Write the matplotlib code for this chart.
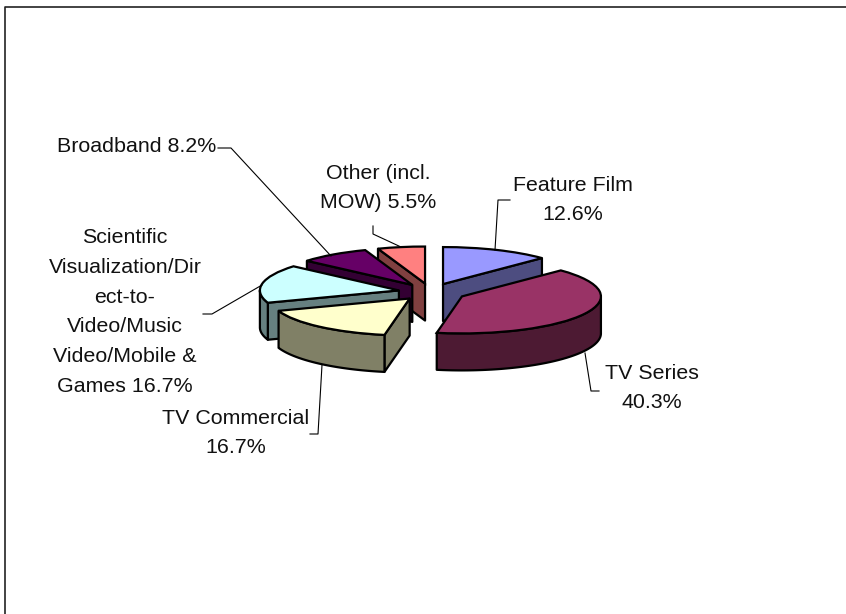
import numpy as np
import matplotlib
matplotlib.use("Agg")
import matplotlib.pyplot as plt
from matplotlib.patches import Polygon

plt.rcParams['font.family'] = ['Liberation Sans', 'DejaVu Sans']

labels = ["Feature Film\n12.6%", "TV Series\n40.3%", "TV Commercial\n16.7%",
          "Scientific\nVisualization/Dir\nect-to-\nVideo/Music\nVideo/Mobile &\nGames 16.7%",
          "Broadband 8.2%", "Other (incl.\nMOW) 5.5%"]
values = [12.6, 40.3, 16.7, 16.7, 8.2, 5.5]
explode = [0.232, 0.255, 0.232, 0.232, 0.232, 0.232]
top_colors = ["#9999FF", "#993366", "#FFFFCC", "#CCFFFF", "#660066", "#FF8080"]
side_colors = ["#4D4D80", "#4D1A33", "#808066", "#668080", "#330033", "#804040"]
# drawing order, back to front
draw_order = [5, 0, 4, 3, 2, 1]
# label centres and leader lines, in reference pixels
label_pos = [(573, 200), (652, 388), (236, 433), (125, 312), (137, 147), (378, 188)]
leaders = [[(510, 200), (498, 200), (495, 250)],
           [(585, 353), (591, 391), (599, 391)],
           [(322, 365), (318, 434), (310, 434)],
           [(262, 285), (212, 314), (203, 314)],
           [(218, 148), (231, 148), (331, 256)],
           [(373, 226), (373, 234), (401, 247)]]

W, H = 846, 614
CX, CY, RX, RY = 430.6, 292.0, 139.0, 37.0
DEPTH = 1.0
LW = 1.6

fig = plt.figure(figsize=(W / 100, H / 100), dpi=100, facecolor="white")
ax = fig.add_axes([0, 0, 1, 1])
wedges, _ = ax.pie(values, colors=top_colors, startangle=90, counterclock=False,
                   explode=explode, normalize=True,
                   wedgeprops=dict(edgecolor="black", linewidth=LW))
ax.set_aspect("auto")
ax.set_xlim(-CX / RX, (W - CX) / RX)
ax.set_ylim((CY - H) / RY, CY / RY)
ax.axis("off")


def px(p):
    return ((p[0] - CX) / RX, (CY - p[1]) / RY)


total = sum(values)
edges = np.concatenate([[0], np.cumsum(values)]) / total * 2 * np.pi
for rank, i in enumerate(draw_order):
    z = 2 + rank * 2
    a1, a2 = edges[i], edges[i + 1]
    mid = (a1 + a2) / 2
    ox, oy = explode[i] * np.sin(mid), explode[i] * np.cos(mid)
    faces = []
    for a, show in ((a1, np.sin(a1) < 0), (a2, np.sin(a2) > 0)):
        if show:
            rx, ry = ox + np.sin(a), oy + np.cos(a)
            faces.append([(ox, oy), (rx, ry), (rx, ry - DEPTH), (ox, oy - DEPTH)])
    lo, hi = max(a1, np.pi / 2), min(a2, 3 * np.pi / 2)
    if hi > lo:
        t = np.linspace(lo, hi, 80)
        xs, ys = ox + np.sin(t), oy + np.cos(t)
        faces.append(list(zip(xs, ys)) + list(zip(xs[::-1], ys[::-1] - DEPTH)))
    for f in faces:
        ax.add_patch(Polygon(f, closed=True, facecolor=side_colors[i], edgecolor="black",
                             linewidth=LW, joinstyle="round", zorder=z))
    wedges[i].set_zorder(z + 1)

for lab, pos, lead in zip(labels, label_pos, leaders):
    x, y = px(pos)
    ax.text(x, y, lab, ha="center", va="center", fontsize=15.4, color="#111111",
            linespacing=1.72, zorder=30)
    pts = np.array([px(p) for p in lead])
    ax.plot(pts[:, 0], pts[:, 1], color="black", lw=0.8, zorder=29, clip_on=False)

# outer chart frame
frame = np.array([px(p) for p in [(5.5, 614), (5.5, 7), (846, 7)]])
ax.plot(frame[:, 0], frame[:, 1], color="#222222", lw=1.2, zorder=31)

fig.savefig("out.png", dpi=100, facecolor="white")
